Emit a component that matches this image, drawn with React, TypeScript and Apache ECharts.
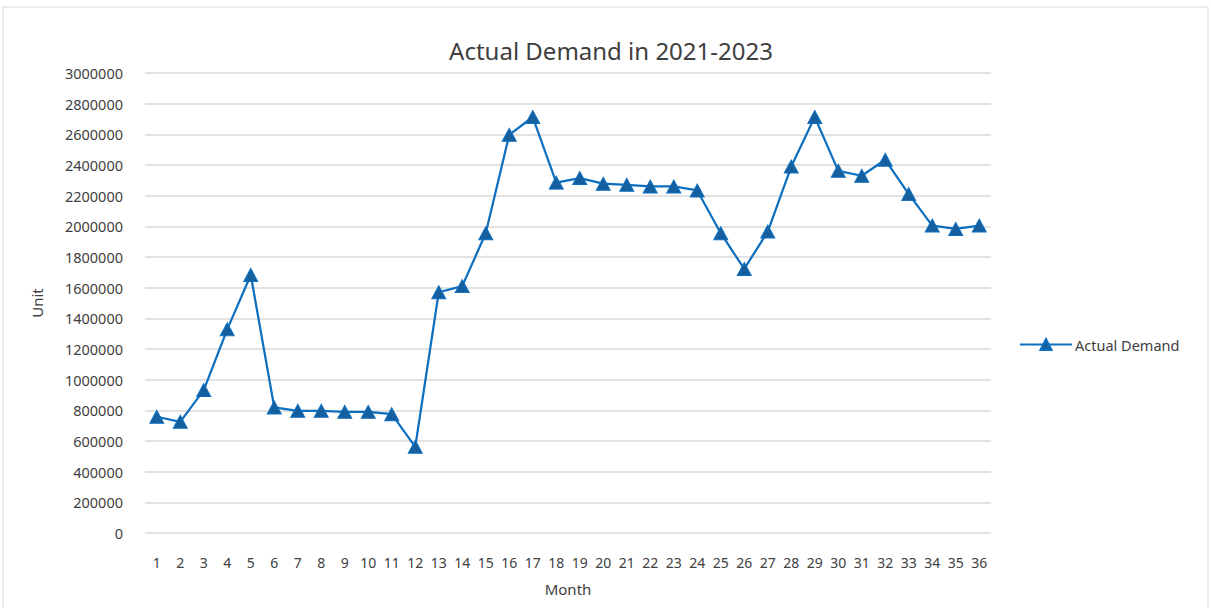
import React, { useEffect, useRef } from "react";
import * as echarts from "echarts";

const months: string[] = Array.from({ length: 36 }, (_, i) => String(i + 1));
const actualDemand: number[] = [
  758000, 725000, 932000, 1328000, 1683000, 819000, 797000, 797000, 790000, 790000,
  775000, 562000, 1570000, 1610000, 1955000, 2597000, 2713000, 2285000, 2315000, 2278000,
  2271000, 2260000, 2260000, 2234000, 1955000, 1722000, 1966000, 2390000, 2713000, 2362000,
  2330000, 2434000, 2210000, 2005000, 1983000, 2005000,
];
const seriesName = "Actual Demand";
const titleText = "Actual Demand in 2021-2023";

const FONT = "'Noto Sans', sans-serif";

export default function App() {
  const ref = useRef<HTMLDivElement>(null);
  useEffect(() => {
    if (!ref.current) return;
    const chart = echarts.init(ref.current, null, { renderer: "svg" });
    chart.setOption({
      animation: false,
      backgroundColor: "#ffffff",
      textStyle: { fontFamily: FONT },
      title: {
        text: titleText,
        left: 606,
        textAlign: "center",
        top: 33,
        textStyle: { fontFamily: FONT, fontSize: 24, fontWeight: "normal", color: "#404040" },
      },
      graphic: [
        {
          type: "rect",
          shape: { x: 3, y: 7, width: 1205, height: 620 },
          style: { fill: "none", stroke: "#d9d9d9", lineWidth: 1 },
          silent: true,
        },
      ],
      legend: {
        data: [seriesName],
        left: 1014,
        top: 332,
        orient: "vertical",
        itemWidth: 52,
        itemHeight: 14,
        itemGap: 4,
        textStyle: { fontFamily: FONT, fontSize: 14.5, color: "#404040", padding: [0, 0, 0, -2] },
      },
      grid: { left: 145, right: 220, top: 73, bottom: 75, containLabel: false },
      xAxis: {
        type: "category",
        data: months,
        boundaryGap: true,
        name: "Month",
        nameLocation: "middle",
        nameGap: 48,
        nameTextStyle: { fontFamily: FONT, fontSize: 15, color: "#404040" },
        axisLine: { show: false },
        axisTick: { show: false },
        axisLabel: { fontFamily: FONT, fontSize: 14, color: "#404040", margin: 22, interval: 0 },
      },
      yAxis: {
        type: "value",
        min: 0,
        max: 3000000,
        interval: 200000,
        name: "Unit",
        nameLocation: "middle",
        nameRotate: 90,
        nameGap: 101,
        nameTextStyle: { fontFamily: FONT, fontSize: 15, color: "#404040" },
        axisLine: { show: false },
        axisTick: { show: false },
        axisLabel: {
          fontFamily: FONT,
          fontSize: 14.5,
          color: "#404040",
          margin: 22,
          formatter: (v: number) => String(v),
        },
        splitLine: { lineStyle: { color: "#d9d9d9", width: 1.5 } },
      },
      series: [
        {
          name: seriesName,
          type: "line",
          data: actualDemand,
          symbol: "triangle",
          symbolSize: [14, 13],
          lineStyle: { color: "#0F6FBF", width: 2.25 },
          itemStyle: { color: "#155F9E", borderColor: "#0F6FBF", borderWidth: 1 },
        },
      ],
    });
    return () => chart.dispose();
  }, []);
  return (
    <div
      ref={ref}
      style={{ position: "absolute", left: 0, top: 0, width: 1211, height: 608 }}
    />
  );
}
